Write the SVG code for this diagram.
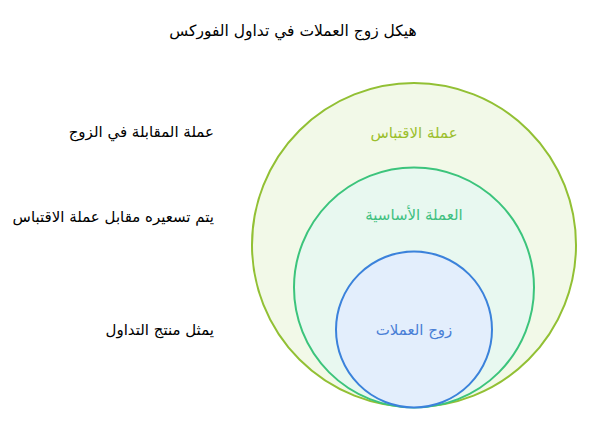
<svg xmlns="http://www.w3.org/2000/svg" width="589" height="422" viewBox="0 0 589 422">
<style>
text{font-family:"DejaVu Sans","Noto Sans",sans-serif;}
.title{font-size:15.5px;fill:#000;text-anchor:middle;}
.desc{font-size:15px;fill:#000;text-anchor:end;}
.lbl{font-size:15px;text-anchor:middle;}
</style>
<rect width="589" height="422" fill="#ffffff"/>
<text class="title" x="293" y="36">هيكل زوج العملات في تداول الفوركس</text>
<g id="quote">
<circle cx="414" cy="245" r="162" fill="#f2f9e8" stroke="#92c034" stroke-width="2"/>
<text class="lbl" x="414" y="138" fill="#9cbf2e">عملة الاقتباس</text>
</g>
<g id="base">
<circle cx="414" cy="287.5" r="120" fill="#e8f8f0" stroke="#3cc47c" stroke-width="2"/>
<text class="lbl" x="414" y="220" fill="#40c080">العملة الأساسية</text>
</g>
<g id="pair">
<circle cx="414" cy="329.5" r="78" fill="#e3eefc" stroke="#3b82db" stroke-width="2"/>
<text class="lbl" x="414" y="335" fill="#4a7fd6">زوج العملات</text>
</g>
<g id="descriptions">
<text class="desc" x="214" y="137">عملة المقابلة في الزوج</text>
<text class="desc" x="214" y="222">يتم تسعيره مقابل عملة الاقتباس</text>
<text class="desc" x="214" y="335">يمثل منتج التداول</text>
</g>
<g id="connectors"></g>
</svg>
